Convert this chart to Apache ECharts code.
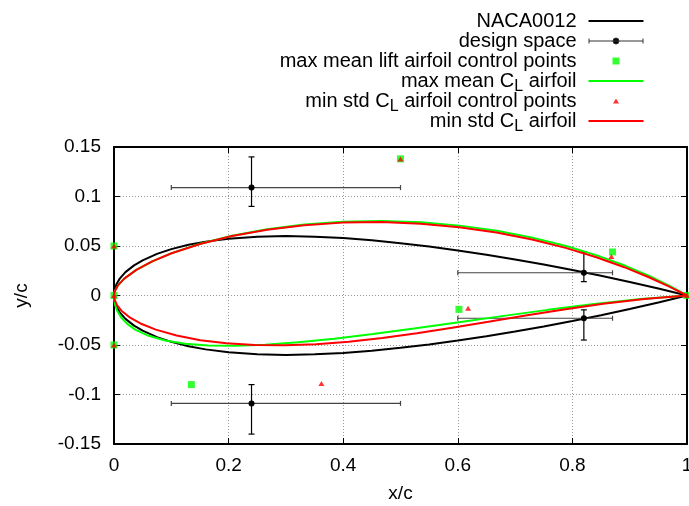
<!DOCTYPE html>
<html>
<head>
<meta charset="utf-8">
<script src="https://cdn.jsdelivr.net/npm/echarts@6/dist/echarts.min.js"></script>
<style>html,body{margin:0;padding:0;background:#fff;}#c{width:689px;height:506px;}</style>
</head>
<body>
<div id="c"></div>
<script>
// NACA0012 half-thickness (upper surface; lower is mirrored)
const nacaX = [0, 0.0005, 0.002, 0.005, 0.01, 0.02, 0.035, 0.05, 0.075, 0.1, 0.13, 0.16, 0.2, 0.25, 0.3, 0.35, 0.4, 0.45, 0.5, 0.55, 0.6, 0.65, 0.7, 0.75, 0.8, 0.85, 0.9, 0.95, 1];
const nacaY = [0, 0.003946, 0.007815, 0.012213, 0.017037, 0.023598, 0.03043, 0.035547, 0.041999, 0.046828, 0.051194, 0.054417, 0.057373, 0.059407, 0.060007, 0.059467, 0.057998, 0.055756, 0.052862, 0.049409, 0.04547, 0.0411, 0.036337, 0.031205, 0.025715, 0.019868, 0.013651, 0.007039, 0];

// max mean C_L airfoil
const meanUpX = [0, 0.00118, 0.007188, 0.017931, 0.038953, 0.066819, 0.100672, 0.150156, 0.206172, 0.267258, 0.332032, 0.399188, 0.4675, 0.535818, 0.603072, 0.668268, 0.730492, 0.788906, 0.842752, 0.891348, 0.934092, 0.970458, 1];
const meanUpY = [0, 0.004084, 0.010463, 0.017027, 0.025856, 0.034529, 0.042803, 0.052266, 0.060421, 0.066983, 0.071731, 0.074515, 0.07525, 0.073921, 0.070579, 0.065345, 0.058405, 0.050016, 0.040499, 0.030247, 0.019717, 0.009437, 0];
const meanLoX = [0, 0.00033, 0.00212, 0.005563, 0.012902, 0.023571, 0.037747, 0.060602, 0.089332, 0.124037, 0.164723, 0.21131, 0.263625, 0.321408, 0.384307, 0.451883, 0.523604, 0.598852, 0.676915, 0.756996, 0.838204, 0.919562, 1];
const meanLoY = [0, -0.003973, -0.009799, -0.015411, -0.022462, -0.028914, -0.034662, -0.040734, -0.045452, -0.048733, -0.050534, -0.050859, -0.04975, -0.047295, -0.043622, -0.038905, -0.033356, -0.027234, -0.020838, -0.014511, -0.008636, -0.003643, 0];

// min std C_L airfoil
const stdUpX = [0, 0.00118, 0.007187, 0.017927, 0.038941, 0.066791, 0.100621, 0.150062, 0.206021, 0.267035, 0.331725, 0.398787, 0.467, 0.535219, 0.602381, 0.667499, 0.729669, 0.788063, 0.841933, 0.890611, 0.933509, 0.970115, 1];
const stdUpY = [0, 0.004084, 0.010461, 0.017019, 0.025829, 0.034467, 0.042688, 0.052055, 0.060081, 0.066481, 0.07104, 0.073613, 0.074125, 0.072573, 0.069024, 0.063615, 0.056553, 0.048118, 0.038656, 0.028589, 0.018405, 0.008665, 0];
const stdLoX = [0, 0.000854, 0.0052, 0.012971, 0.028187, 0.048395, 0.073024, 0.109235, 0.150606, 0.196313, 0.245632, 0.297949, 0.35275, 0.409631, 0.468288, 0.528527, 0.590254, 0.653485, 0.718336, 0.785033, 0.853902, 0.925379, 1];
const stdLoY = [0, -0.00397, -0.009785, -0.015376, -0.022389, -0.028792, -0.034483, -0.040476, -0.045112, -0.048311, -0.050035, -0.050291, -0.049125, -0.046628, -0.042931, -0.03821, -0.03268, -0.026601, -0.020275, -0.014045, -0.008296, -0.003458, 0];

// control points
const meanCtrlX = [0, 0, 0, 0.5, 0.87, 1, 0.135, 0.602];
const meanCtrlY = [0.05, 0, -0.05, 0.138, 0.044, 0, -0.09, -0.014];
const stdCtrlX = [0, 0, 0, 0.5, 0.868, 1, 0.362, 0.618];
const stdCtrlY = [0.05, 0, -0.05, 0.138, 0.0395, 0, -0.089, -0.013];

// design space (centre and ranges)
const dsX = [0.24, 0.82, 0.82, 0.24];
const dsY = [0.109, 0.023, -0.023, -0.109];
const dsXLo = [0.1, 0.6, 0.6, 0.1];
const dsXHi = [0.5, 0.87, 0.87, 0.5];
const dsYLo = [0.09, 0.014, -0.045, -0.14];
const dsYHi = [0.14, 0.044, -0.0145, -0.09];

const xTicks = {min: 0, max: 1, interval: 0.2};
const yTicks = {min: -0.15, max: 0.15, interval: 0.05};

const FONT = "'Liberation Sans', Arial, Helvetica, sans-serif";
const GREEN = '#00ff00', RED = '#ff0000';

function closed(ux, uy, lx, ly) {
  const up = ux.map((x, i) => [x, uy[i]]);
  const lo = lx.map((x, i) => [x, ly[i]]).reverse();
  return up.concat(lo);
}
const nacaData = closed(nacaX, nacaY, nacaX, nacaY.map(v => -v));
const meanData = closed(meanUpX, meanUpY, meanLoX, meanLoY);
const stdData = closed(stdUpX, stdUpY, stdLoX, stdLoY);
const meanCtrl = meanCtrlX.map((x, i) => [x, meanCtrlY[i]]);
const stdCtrl = stdCtrlX.map((x, i) => [x, stdCtrlY[i]]);
const dsData = dsX.map((x, i) => [x, dsY[i], dsXLo[i], dsXHi[i], dsYLo[i], dsYHi[i]]);

const names = ['NACA0012', 'design space', 'max mean lift airfoil control points', 'max mean C_L airfoil', 'min std C_L airfoil control points', 'min std C_L airfoil'];

const chart = echarts.init(document.getElementById('c'), null, {renderer: 'canvas'});

function axisCommon(showLabel) {
  return {
    type: 'value',
    axisLine: {show: true, onZero: false, lineStyle: {color: '#000', width: 2}},
    axisTick: {show: true, inside: true, length: 6, lineStyle: {color: '#000', width: 1}},
    axisLabel: {show: showLabel, color: '#000', fontSize: 19, fontFamily: FONT},
    splitLine: {show: false}
  };
}

const option = {
  animation: false,
  backgroundColor: '#fff',
  grid: {left: 114, right: 2, top: 147, bottom: 62, containLabel: false, outerBoundsMode: 'none'},
  xAxis: [
    Object.assign(axisCommon(true), xTicks, {
      position: 'bottom',
      axisLabel: {show: true, color: '#000', fontSize: 19, fontFamily: FONT, margin: 12},
      splitLine: {show: true, lineStyle: {color: '#999', width: 1, type: [1, 2]}},
      name: 'x/c', nameLocation: 'middle', nameGap: 40,
      nameTextStyle: {color: '#000', fontSize: 19, fontFamily: FONT}
    }),
    Object.assign(axisCommon(false), xTicks, {position: 'top'})
  ],
  yAxis: [
    Object.assign(axisCommon(true), yTicks, {
      position: 'left',
      axisLabel: {show: true, color: '#000', fontSize: 19, fontFamily: FONT, margin: 13},
      splitLine: {show: true, lineStyle: {color: '#999', width: 1, type: [1, 2]}},
      name: 'y/c', nameLocation: 'middle', nameGap: 83,
      nameTextStyle: {color: '#000', fontSize: 19, fontFamily: FONT}
    }),
    Object.assign(axisCommon(false), yTicks, {position: 'right'})
  ],
  legend: {
    orient: 'vertical', align: 'right', right: 45, top: 7, padding: 0,
    itemWidth: 55, itemHeight: 14, itemGap: -8, selectedMode: false,
    formatter: n => n.replace('C_L', 'C{s|L}'),
    textStyle: {
      color: '#000', fontSize: 20, fontFamily: FONT, lineHeight: 28, padding: [0, 7, 0, 0],
      rich: {s: {color: '#000', fontSize: 16, fontFamily: FONT, lineHeight: 28, verticalAlign: 'bottom'}}
    },
    data: [
      {name: names[0], icon: 'path://M0,0M55,14M0,6H55V8H0Z', itemStyle: {color: '#000', borderWidth: 0}},
      {name: names[1], icon: 'path://M0,0M55,14M0.5,4.5V9.5M0.5,7H54.5M54.5,4.5V9.5M24.5,7A3,3,0,1,0,30.5,7A3,3,0,1,0,24.5,7Z', itemStyle: {color: '#000', borderColor: '#333', borderWidth: 1}},
      {name: names[2], icon: 'path://M0,0M55,14M24,3.5H31V10.5H24Z', itemStyle: {color: GREEN, borderWidth: 0}},
      {name: names[3], icon: 'path://M0,0M55,14M0,6H55V8H0Z', itemStyle: {color: GREEN, borderWidth: 0}},
      {name: names[4], icon: 'path://M0,0M55,14M27.5,4.5L30.5,9.5H24.5Z', itemStyle: {color: RED, borderWidth: 0}},
      {name: names[5], icon: 'path://M0,0M55,14M0,6H55V8H0Z', itemStyle: {color: RED, borderWidth: 0}}
    ]
  },
  series: [
    {name: names[0], type: 'line', data: nacaData, showSymbol: false, symbol: 'none', clip: false,
     lineStyle: {color: '#000', width: 2}, itemStyle: {color: '#000'}, z: 2},
    {name: names[1], type: 'custom', data: dsData, encode: {x: [0, 2, 3], y: [1, 4, 5]}, clip: false, z: 3,
     itemStyle: {color: '#000'},
     renderItem: function (params, api) {
       const x = api.value(0), y = api.value(1);
       const c = api.coord([x, y]);
       const l = api.coord([api.value(2), y]), r = api.coord([api.value(3), y]);
       const b = api.coord([x, api.value(4)]), t = api.coord([x, api.value(5)]);
       const grey = {stroke: '#444', lineWidth: 1.2};
       const blk = {stroke: '#000', lineWidth: 1.2};
       return {type: 'group', children: [
         {type: 'line', shape: {x1: l[0], y1: c[1], x2: r[0], y2: c[1]}, style: grey},
         {type: 'line', shape: {x1: l[0], y1: c[1] - 2.5, x2: l[0], y2: c[1] + 2.5}, style: grey},
         {type: 'line', shape: {x1: r[0], y1: c[1] - 2.5, x2: r[0], y2: c[1] + 2.5}, style: grey},
         {type: 'line', shape: {x1: c[0], y1: t[1], x2: c[0], y2: b[1]}, style: blk},
         {type: 'line', shape: {x1: c[0] - 3, y1: t[1], x2: c[0] + 3, y2: t[1]}, style: blk},
         {type: 'line', shape: {x1: c[0] - 3, y1: b[1], x2: c[0] + 3, y2: b[1]}, style: blk},
         {type: 'circle', shape: {cx: c[0], cy: c[1], r: 3}, style: {fill: '#000'}}
       ]};
     }},
    {name: names[2], type: 'scatter', data: meanCtrl, symbol: 'rect', symbolSize: 7, clip: false,
     itemStyle: {color: GREEN}, z: 4},
    {name: names[3], type: 'line', data: meanData, showSymbol: false, symbol: 'none', clip: false,
     lineStyle: {color: GREEN, width: 2}, itemStyle: {color: GREEN}, z: 5},
    {name: names[4], type: 'scatter', data: stdCtrl, symbol: 'triangle', symbolSize: [6, 5], clip: false,
     itemStyle: {color: RED}, z: 6},
    {name: names[5], type: 'line', data: stdData, showSymbol: false, symbol: 'none', clip: false,
     lineStyle: {color: RED, width: 2}, itemStyle: {color: RED}, z: 7}
  ]
};
chart.setOption(option);
</script>
</body>
</html>
